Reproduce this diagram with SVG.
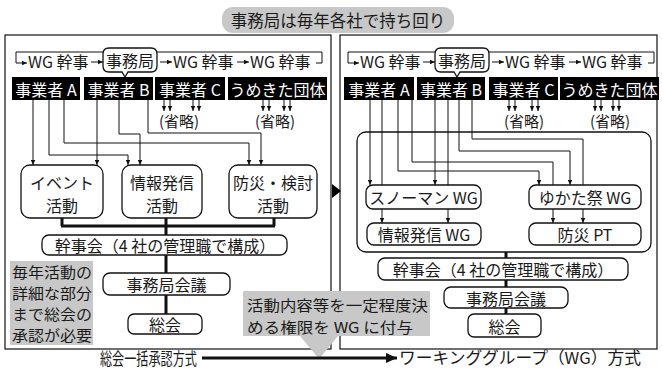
<svg xmlns="http://www.w3.org/2000/svg" width="662" height="370" viewBox="0 0 662 370">
<defs>
<marker id="ah" viewBox="0 0 10 10" refX="10" refY="5" markerWidth="5" markerHeight="5" markerUnits="userSpaceOnUse" orient="auto"><path d="M0,0.5 L10,5 L0,9.5 z" fill="#111"/></marker>
<marker id="big" viewBox="0 0 10 10" refX="10" refY="5" markerWidth="11" markerHeight="11" markerUnits="userSpaceOnUse" orient="auto"><path d="M0,0.5 L10,5 L0,9.5 z" fill="#111"/></marker>
<style>
text{font-family:"Noto Sans CJK JP","Noto Sans",sans-serif;font-size:16px;fill:#1a1a1a;dominant-baseline:central}
.c{text-anchor:middle}
.w{fill:#fff}
.box{fill:#fff;stroke:#111;stroke-width:1.3}
.panel{fill:#fff;stroke:#111;stroke-width:1.2}
.blk{fill:#000}
.ln{fill:none;stroke:#111;stroke-width:1}
.th{fill:none;stroke:#111;stroke-width:3}
.gray{fill:#c8c8c8}
.sm{font-size:15px}
.nt{font-size:14.5px}
.ct{font-size:15px}
</style>
</defs>

<g id="banner">
<rect x="222" y="7" width="232" height="26" rx="11" class="gray"/>
<text x="338" y="20" class="c" style="font-size:16.5px">事務局は毎年各社で持ち回り</text>
</g>

<g id="panel-left">
<rect x="5" y="35" width="326" height="314" class="panel"/>
</g>
<g id="panel-right">
<rect x="340" y="35" width="317" height="314" class="panel"/>
<rect x="357" y="132" width="294" height="120" rx="9" class="box"/>
</g>

<g id="transition">
<polygon points="332,184 341,191 332,198" fill="#000"/>
</g>

<g id="rotation-left">
<path d="M316,63 H322 V52 H16 V63 H27" class="ln" marker-end="url(#ah)"/>
<text x="28" y="61">WG 幹事</text>
<path d="M91,62 H103" class="ln" marker-end="url(#ah)"/>
<path d="M109,48 H151 Q157,48 157,54 V66 Q157,72 151,72 H128 L125,77 L122,72 H109 Q103,72 103,66 V54 Q103,48 109,48 Z" class="box"/>
<text x="130" y="60" class="c">事務局</text>
<path d="M160,62 H172" class="ln" marker-end="url(#ah)"/>
<text x="173" y="61">WG 幹事</text>
<path d="M237,62 H249" class="ln" marker-end="url(#ah)"/>
<text x="250" y="61">WG 幹事</text>
</g>
<g id="rotation-right">
<path d="M648,63 H654 V52 H348 V63 H359" class="ln" marker-end="url(#ah)"/>
<text x="360" y="61">WG 幹事</text>
<path d="M423,62 H435" class="ln" marker-end="url(#ah)"/>
<path d="M441,48 H483 Q489,48 489,54 V66 Q489,72 483,72 H460 L457,77 L454,72 H441 Q435,72 435,66 V54 Q435,48 441,48 Z" class="box"/>
<text x="462" y="60" class="c">事務局</text>
<path d="M492,62 H504" class="ln" marker-end="url(#ah)"/>
<text x="505" y="61">WG 幹事</text>
<path d="M569,62 H581" class="ln" marker-end="url(#ah)"/>
<text x="582" y="61">WG 幹事</text>
</g>

<g id="L-jigyoA"><rect x="12" y="77" width="68" height="23" class="blk"/><text x="46" y="88.5" class="c w">事業者 A</text></g>
<g id="L-jigyoB"><rect x="84" y="77" width="69" height="23" class="blk"/><text x="118.5" y="88.5" class="c w">事業者 B</text></g>
<g id="L-jigyoC"><rect x="155" y="77" width="70" height="23" class="blk"/><text x="190" y="88.5" class="c w">事業者 C</text></g>
<g id="L-umekita"><rect x="228" y="77" width="99" height="23" class="blk"/><text x="277.5" y="88.5" class="c w">うめきた団体</text></g>
<g id="R-jigyoA"><rect x="344" y="77" width="70" height="23" class="blk"/><text x="379" y="88.5" class="c w">事業者 A</text></g>
<g id="R-jigyoB"><rect x="417" y="77" width="68" height="23" class="blk"/><text x="451" y="88.5" class="c w">事業者 B</text></g>
<g id="R-jigyoC"><rect x="489" y="77" width="69" height="23" class="blk"/><text x="523.5" y="88.5" class="c w">事業者 C</text></g>
<g id="R-umekita"><rect x="560" y="77" width="99" height="23" class="blk"/><text x="609.5" y="88.5" class="c w">うめきた団体</text></g>

<g id="omit">
<text x="179" y="120" class="c sm">(省略)</text>
<text x="275" y="120" class="c sm">(省略)</text>
<text x="524" y="120" class="c sm">(省略)</text>
<text x="610" y="120" class="c sm">(省略)</text>
</g>

<g id="connectors">
<path d="M164,100 V111" class="ln" marker-end="url(#ah)"/>
<path d="M170,100 V111" class="ln" marker-end="url(#ah)"/>
<path d="M193,100 V111" class="ln" marker-end="url(#ah)"/>
<path d="M199,100 V111" class="ln" marker-end="url(#ah)"/>
<path d="M263,100 V111" class="ln" marker-end="url(#ah)"/>
<path d="M269,100 V111" class="ln" marker-end="url(#ah)"/>
<path d="M284,100 V111" class="ln" marker-end="url(#ah)"/>
<path d="M290,100 V111" class="ln" marker-end="url(#ah)"/>
<path d="M509,100 V111" class="ln" marker-end="url(#ah)"/>
<path d="M515,100 V111" class="ln" marker-end="url(#ah)"/>
<path d="M532,100 V111" class="ln" marker-end="url(#ah)"/>
<path d="M538,100 V111" class="ln" marker-end="url(#ah)"/>
<path d="M595,100 V111" class="ln" marker-end="url(#ah)"/>
<path d="M601,100 V111" class="ln" marker-end="url(#ah)"/>
<path d="M613,100 V111" class="ln" marker-end="url(#ah)"/>
<path d="M619,100 V111" class="ln" marker-end="url(#ah)"/>
<path d="M33,100 V165" class="ln" marker-end="url(#ah)"/>
<path d="M49,100 V155 H128 V165" class="ln" marker-end="url(#ah)"/>
<path d="M64,100 V143 H249 V165" class="ln" marker-end="url(#ah)"/>
<path d="M97,100 V165" class="ln" marker-end="url(#ah)"/>
<path d="M119,100 V134 H140 V165" class="ln" marker-end="url(#ah)"/>
<path d="M148,100 V133 H261 V165" class="ln" marker-end="url(#ah)"/>
<path d="M62,218 V226 M166,218 V226 M274,218 V226 M61,226 H275 M166,226 V235 M166,255 V273 M166,295 V314" class="th"/>
<path d="M370,100 V185" class="ln" marker-end="url(#ah)"/>
<path d="M382,100 V223" class="ln" marker-end="url(#ah)"/>
<path d="M398,100 V171 H539 V185" class="ln" marker-end="url(#ah)"/>
<path d="M412,100 V162 H553 V223" class="ln" marker-end="url(#ah)"/>
<path d="M435,100 V185" class="ln" marker-end="url(#ah)"/>
<path d="M448,100 V223" class="ln" marker-end="url(#ah)"/>
<path d="M459,100 V151 H570 V185" class="ln" marker-end="url(#ah)"/>
<path d="M472,100 V139 H583 V223" class="ln" marker-end="url(#ah)"/>
<path d="M506,252 V258 M506,280 V287 M506,308 V314" class="th"/>
</g>

<g id="L-event"><rect x="21" y="165" width="82" height="53" rx="9" class="box"/><text x="62" y="182" class="c">イベント</text><text x="62" y="205" class="c">活動</text></g>
<g id="L-info"><rect x="122" y="165" width="80" height="53" rx="9" class="box"/><text x="162" y="182" class="c">情報発信</text><text x="162" y="205" class="c">活動</text></g>
<g id="L-bousai"><rect x="229" y="165" width="88" height="53" rx="9" class="box"/><text x="273" y="182" class="c">防災・検討</text><text x="273" y="205" class="c">活動</text></g>
<g id="L-kanjikai"><rect x="42" y="235" width="245" height="20" rx="7" class="box"/><text x="165" y="245" class="c">幹事会（4 社の管理職で構成）</text></g>
<g id="L-jimukyoku"><rect x="103" y="273" width="127" height="22" rx="7" class="box"/><text x="166.5" y="284" class="c">事務局会議</text></g>
<g id="L-soukai"><rect x="128" y="314" width="74" height="20" rx="6" class="box"/><text x="165" y="324" class="c">総会</text></g>

<g id="R-snowman"><rect x="366" y="185" width="115" height="24" rx="7" class="box"/><text x="423.5" y="197" class="c">スノーマン WG</text></g>
<g id="R-yukata"><rect x="529" y="185" width="112" height="24" rx="7" class="box"/><text x="585" y="197" class="c">ゆかた祭 WG</text></g>
<g id="R-infoWG"><rect x="367" y="223" width="114" height="22" rx="7" class="box"/><text x="424" y="234" class="c">情報発信 WG</text></g>
<g id="R-bousaiPT"><rect x="529" y="223" width="112" height="22" rx="7" class="box"/><text x="585" y="234" class="c">防災 PT</text></g>
<g id="R-kanjikai"><rect x="378" y="258" width="250" height="22" rx="7" class="box"/><text x="503" y="269" class="c">幹事会（4 社の管理職で構成）</text></g>
<g id="R-jimukyoku"><rect x="444" y="287" width="124" height="21" rx="7" class="box"/><text x="506" y="297.5" class="c">事務局会議</text></g>
<g id="R-soukai"><rect x="468" y="314" width="73" height="23" rx="6" class="box"/><text x="504.5" y="325.5" class="c">総会</text></g>

<g id="note-left">
<rect x="10" y="261" width="83" height="84" class="gray"/>
<text x="12" y="271" class="nt" textLength="80" lengthAdjust="spacingAndGlyphs">毎年活動の</text>
<text x="12" y="292.3" class="nt" textLength="80" lengthAdjust="spacingAndGlyphs">詳細な部分</text>
<text x="12" y="313.6" class="nt" textLength="80" lengthAdjust="spacingAndGlyphs">まで総会の</text>
<text x="12" y="334.9" class="nt" textLength="80" lengthAdjust="spacingAndGlyphs">承認が必要</text>
</g>
<g id="note-center">
<path d="M243,291 H430 V336 H338 L319,359 L300,336 H243 Z" class="gray"/>
<text x="247" y="304.5" class="ct" textLength="181" lengthAdjust="spacingAndGlyphs">活動内容等を一定程度決</text>
<text x="247" y="326.5" class="ct" textLength="166" lengthAdjust="spacingAndGlyphs">める権限を WG に付与</text>
</g>

<g id="bottom-arrow">
<text x="197" y="357" style="text-anchor:end;font-size:17px" textLength="97" lengthAdjust="spacingAndGlyphs">総会一括承認方式</text>
<path d="M202,358 H397" class="th" marker-end="url(#big)"/>
<text x="399" y="357" style="font-size:16.5px" textLength="242" lengthAdjust="spacingAndGlyphs">ワーキンググループ（WG）方式</text>
</g>
</svg>
